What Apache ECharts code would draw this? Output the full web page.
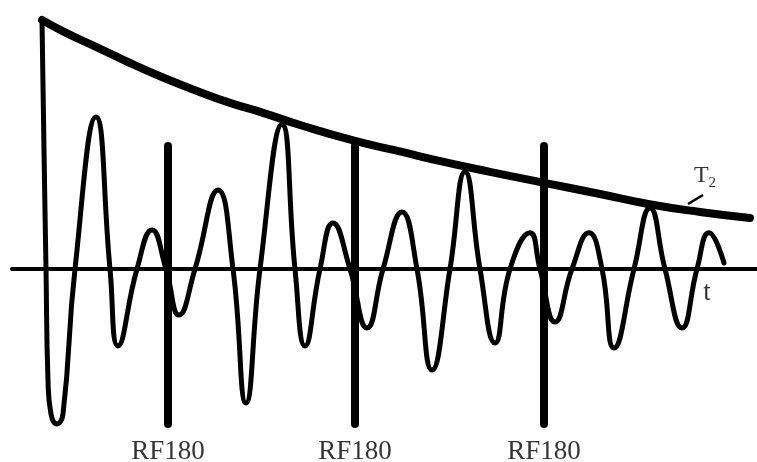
<!DOCTYPE html>
<html>
<head>
    <meta charset="UTF-8">
    <title>自旋回波 T2</title>
    <script src="https://cdn.jsdelivr.net/npm/echarts@6/dist/echarts.min.js"></script>
    <style>
        html, body {
            margin: 0;
            padding: 0;
            background: #fff;
        }
        #chart {
            width: 757px;
            height: 462px;
        }
    </style>
</head>
<body>
<div id="chart"></div>
<script>
    // 回波信号 (时间, 幅度)
    var signalTime = [
        0, 0.2, 0.4, 0.6, 0.9, 1.5, 2.1, 3.3, 5.4, 6.8,
        7.6, 9.5, 11.0, 12.4, 13.7, 15.3, 17.6, 19.1, 20.4, 21.8,
        24.0, 25.3, 26.3, 27.8, 29.1, 30.8, 32.5, 34.1, 36.0, 37.5,
        39.0, 40.8, 42.3, 43.8, 45.3, 46.8, 48.8, 49.8, 51.3, 53.0,
        54.7, 56.0, 57.2, 59.2, 60.8, 62.3, 64.0, 65.5, 66.7, 68.2
    ];
    var signalAmp = [
        100, 47.8, 0, -44.6, -58.2, -62.2, -58.2, 0, 61.0, 0,
        -30.9, 0, 15.7, 0, -18.5, 0, 31.7, 0, -53.8, 0,
        58.0, 0, -30.9, 0, 18.5, 0, -23.7, 0, 22.9, 0,
        -40.6, 0, 39.0, 0, -29.7, 0, 14.5, 0, -21.3, 0,
        14.5, 0, -31.7, 0, 24.5, 0, -23.7, 0, 14.5, 2.4
    ];

    // T2 衰减包络
    var t2Time = [0, 2.1, 5.5, 8.8, 12.1, 15.5, 18.8, 22.1, 25.8, 31.3, 35.8, 39.5, 44.8, 50.1, 55.8, 60.6, 65.8, 70.8];
    var t2Amp = [100, 95.4, 89.0, 82.7, 76.9, 71.5, 66.7, 62.7, 57.8, 51.4, 47.2, 43.6, 39.0, 34.7, 30.1, 26.1, 22.9, 20.5];

    // 180° 射频脉冲
    var rfTime = [12.6, 31.3, 50.2];
    var rfTop = 49.4;
    var rfBottom = -62.2;
    var rfLabel = 'RF180';

    var chart = echarts.init(document.getElementById('chart'));

    var signalData = signalTime.map(function (t, i) { return [t, signalAmp[i]]; });
    var t2Data = t2Time.map(function (t, i) { return [t, t2Amp[i]]; });

    var serif = "'Liberation Serif', 'Times New Roman', serif";

    var series = [];

    rfTime.forEach(function (t) {
        series.push({
            type: 'line',
            data: [[t, rfTop], [t, rfBottom]],
            showSymbol: false,
            clip: false,
            silent: true,
            lineStyle: { color: '#000', width: 8, cap: 'round' },
            z: 3
        });
    });

    series.push({
        type: 'line',
        data: signalData,
        smooth: true,
        showSymbol: false,
        clip: false,
        lineStyle: { color: '#000', width: 5, join: 'round', cap: 'round' },
        z: 2
    });

    series.push({
        type: 'line',
        data: t2Data,
        smooth: true,
        showSymbol: false,
        clip: false,
        lineStyle: { color: '#000', width: 8, cap: 'round' },
        z: 4
    });

    // T2 引线
    series.push({
        type: 'line',
        data: [[64.6, 26.1], [66.1, 29.7]],
        showSymbol: false,
        clip: false,
        lineStyle: { color: '#000', width: 2.5 },
        z: 4
    });

    // 文字标注
    series.push({
        type: 'scatter',
        symbolSize: 0,
        silent: true,
        data: rfTime.map(function (t) { return [t, -73.3]; }),
        label: {
            show: true,
            position: 'inside',
            formatter: rfLabel,
            color: '#000',
            fontFamily: serif,
            fontSize: 27
        }
    });

    series.push({
        type: 'scatter',
        symbolSize: 0,
        silent: true,
        data: [[66.3, 37.4]],
        label: {
            show: true,
            position: 'inside',
            formatter: '{a|T}{b|2}',
            rich: {
                a: { fontFamily: serif, fontSize: 24, color: '#000', verticalAlign: 'bottom' },
                b: { fontFamily: serif, fontSize: 15, color: '#000', verticalAlign: 'bottom', padding: [0, 0, -3, 0] }
            }
        }
    });

    series.push({
        type: 'scatter',
        symbolSize: 0,
        silent: true,
        data: [[66.5, -9.6]],
        label: {
            show: true,
            position: 'inside',
            formatter: 't',
            color: '#000',
            fontFamily: serif,
            fontSize: 27
        }
    });

    var option = {
        backgroundColor: '#fff',
        animation: false,
        grid: { left: 12, right: 0, top: 0, bottom: 0 },
        xAxis: {
            type: 'value',
            min: -3.0,
            max: 71.5,
            axisLine: { onZero: true, lineStyle: { color: '#000', width: 4 } },
            axisTick: { show: false },
            axisLabel: { show: false },
            splitLine: { show: false }
        },
        yAxis: {
            type: 'value',
            min: -77.5,
            max: 108,
            show: false
        },
        series: series
    };
    chart.setOption(option);
</script>
</body>
</html>
